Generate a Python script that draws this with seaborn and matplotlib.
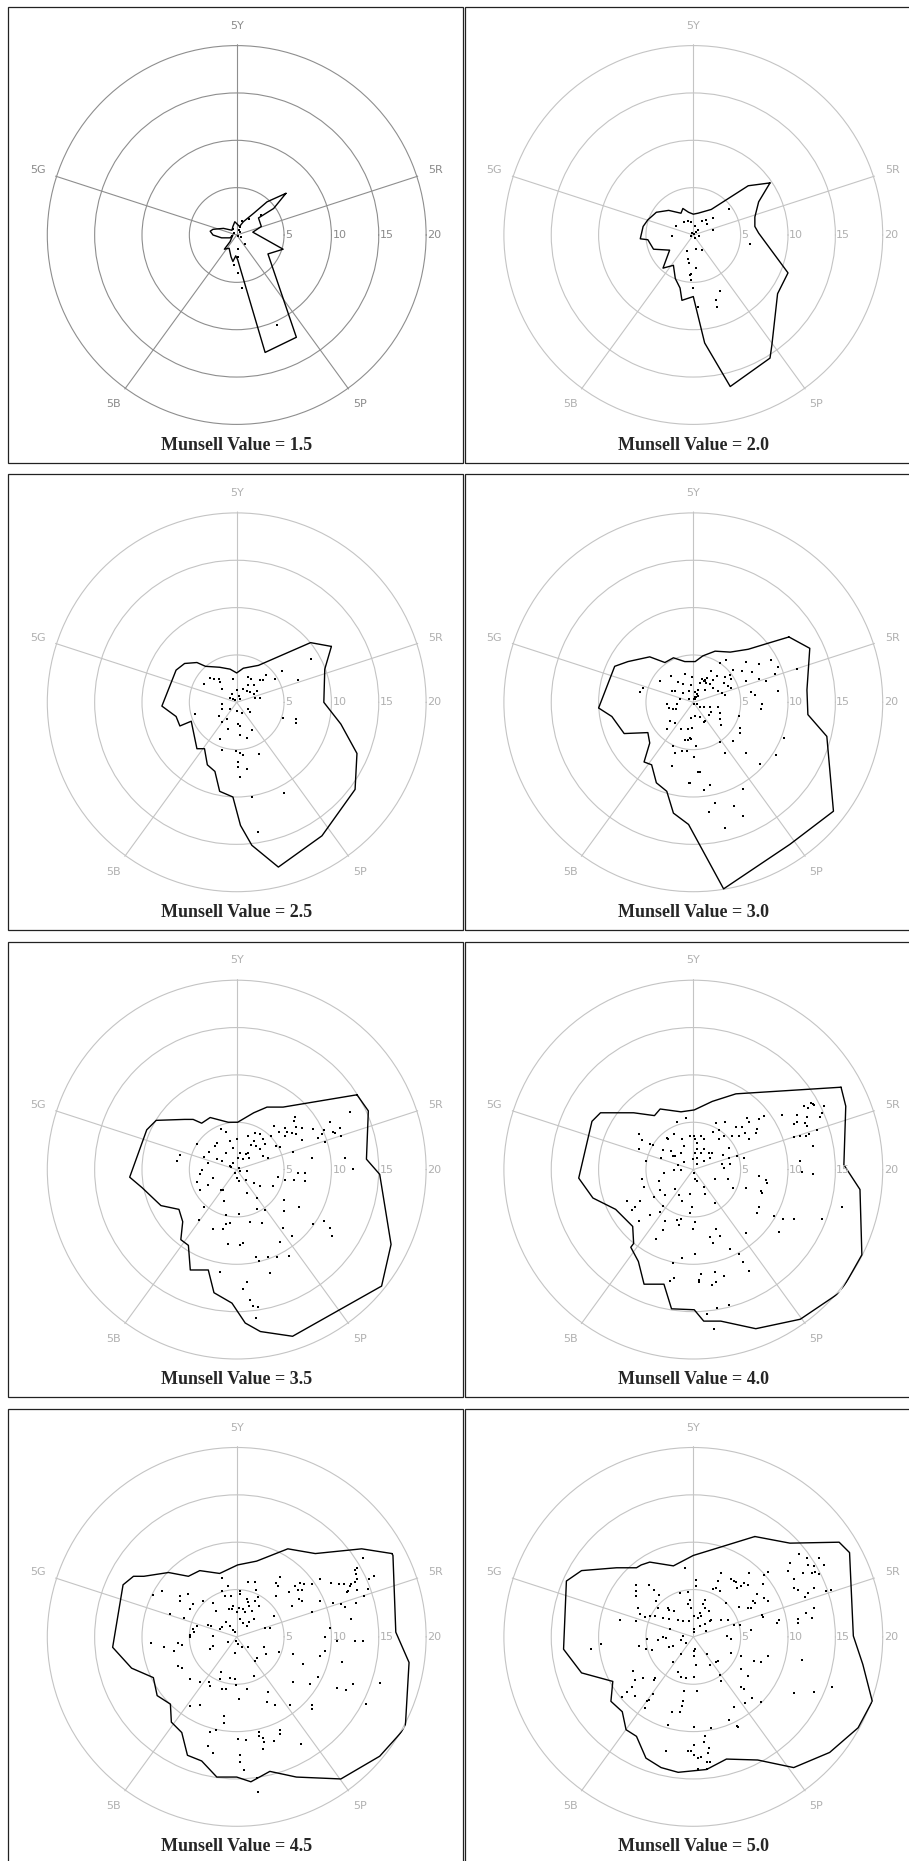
import numpy as np
import seaborn as sns
import matplotlib.pyplot as plt
from matplotlib.patches import Rectangle

# Munsell value levels, one panel each
values = [1.5, 2.0, 2.5, 3.0, 3.5, 4.0, 4.5, 5.0]
hue_labels = ['5R', '5Y', '5G', '5B', '5P']
hue_angles = [18, 90, 162, 234, 306]   # degrees
rings = [5, 10, 15, 20]

# outlines (chroma units, x = right, y = up)
outline_15 = [(5.2,4.4),(3.2,3.5),(1.8,2.3),(0.7,1.4),(0.3,0.9),(-0.2,1.4),(-0.4,0.9),(-0.5,0.5),
              (-1.4,0.7),(-2.5,0.6),(-2.8,0.4),(-2.5,0.0),(-1.6,-0.3),(-0.7,-0.3),(-0.4,0.0),
              (-0.7,-0.7),(-1.3,-1.5),(-0.8,-1.4),(-0.6,-2.3),(-0.4,-2.8),(-0.1,-2.2),(0.1,-2.6),
              (3.0,-12.4),(6.3,-10.8),(3.3,-2.0),(4.9,-1.5),(1.7,0.3),(2.6,0.9),(2.3,1.8),(3.9,2.8)]
dots_15 = [(2.6,2.1),(0.6,1.5),(1.3,1.7),(0.9,-0.9),(0.1,-1.5),(0.1,-2.3),(-0.3,-3.2),(0.1,-4.0),
           (0.6,-5.6),(4.3,-9.5),(0.2,0.5),(0.4,0.3),(-0.3,0.2),(0.1,-0.1),(-0.5,-0.1),(0.3,0.8),
           (-0.4,0.6),(0.5,-0.2)]

outline_20 = [(8.1,5.5),(5.8,5.2),(1.9,2.7),(0.5,2.3),(0.0,2.2),(-0.5,2.4),(-1.1,2.8),(-1.3,2.3),
              (-2.6,2.6),(-3.9,2.4),(-4.8,1.6),(-5.3,0.9),(-5.6,-0.4),(-4.8,-0.5),(-4.2,-1.5),
              (-2.5,-1.6),(-3.2,-3.5),(-2.1,-3.2),(-1.9,-4.6),(-1.4,-5.6),(-1.2,-6.9),(0.0,-6.5),
              (1.2,-11.4),(3.9,-16.0),(8.1,-13.0),(8.3,-11.6),(8.9,-6.2),(10.0,-4.0),(6.9,0.2),
              (6.5,0.9),(6.5,1.9),(6.9,3.5)]
dots_20 = [(3.8,2.7),(2.1,1.8),(1.3,1.6),(1.4,1.2),(0.9,1.5),(2.1,0.5),(0.5,0.5),(0.2,0.9),
           (-0.2,1.4),(-0.6,1.5),(-1.0,1.4),(-1.8,1.0),(-2.2,-0.1),(0.6,-0.1),(6.0,-1.0),
           (-0.7,-1.7),(0.3,-1.5),(0.9,-1.6),(-0.6,-2.5),(-0.5,-3.0),(0.3,-3.5),(-0.2,-4.1),
           (-0.3,-4.2),(-0.2,-4.8),(0.0,-5.6),(2.8,-5.9),(2.4,-6.9),(2.5,-7.6),(0.5,-7.6),
           (0.3,0.3),(0.1,0.1),(-0.2,-0.1),(0.2,-0.3),(-0.1,0.2)]

outline_25 = [(10.0,5.9),(7.8,6.3),(2.3,3.9),(0.7,3.6),(0.0,3.1),(-0.7,3.5),(-1.8,3.7),(-3.3,3.8),
              (-4.2,4.2),(-5.5,4.1),(-6.4,3.4),(-7.9,-0.4),(-6.4,-1.5),(-6.0,-2.5),(-4.8,-2.0),
              (-4.2,-4.9),(-3.4,-4.9),(-3.1,-6.6),(-2.3,-7.3),(-1.8,-9.4),(-0.4,-10.0),(0.4,-13.0),
              (1.6,-15.1),(4.4,-17.4),(9.0,-14.1),(12.5,-9.2),(12.7,-5.4),(11.0,-2.3),(9.2,0.0),(9.3,3.5)]
dots_25 = [(7.8,4.6),(6.5,2.4),(4.8,3.3),(4.0,2.5),(3.1,2.9),(2.8,2.4),(2.5,2.4),(1.5,2.5),(1.2,2.7),
           (1.8,1.8),(1.2,1.8),(0.7,1.4),(1.1,1.2),(1.4,1.1),(2.1,1.2),(1.9,0.5),(2.5,0.5),(1.8,0.9),
           (-0.4,2.5),(0.0,1.3),(-0.5,0.9),(0.2,0.7),(-0.7,0.5),(-0.4,0.4),(0.4,0.4),(-0.2,0.2),
           (-2.8,2.6),(-2.4,2.5),(-1.9,2.5),(-1.8,2.1),(-3.5,1.9),(-1.6,1.4),(-1.5,-0.2),(-1.6,-0.7),
           (-1.9,-1.4),(-4.4,-1.2),(-0.7,-0.7),(0.0,-0.9),(1.2,-0.7),(1.4,-1.0),(0.6,-1.1),(-1.0,-1.8),
           (-1.6,-2.1),(-0.9,-2.8),(0.1,-2.3),(0.3,-2.5),(1.6,-2.9),(0.4,-3.5),(1.1,-3.8),(-1.8,-3.9),
           (-1.6,-5.0),(-0.1,-5.1),(0.4,-5.4),(0.7,-5.6),(2.4,-5.5),(0.1,-6.3),(0.1,-6.8),(1.1,-7.0),
           (0.4,-7.9),(4.9,-1.7),(6.3,-1.8),(6.3,-2.2),(5.0,-9.6),(1.6,-10.0),(2.2,-13.7)]

outline_30 = [(10.1,6.9),(8.1,6.3),(5.8,5.6),(3.9,5.3),(2.3,5.4),(1.0,4.9),(0.2,4.3),(-0.9,4.3),
              (-2.1,4.7),(-3.0,4.2),(-4.6,4.8),(-6.9,4.3),(-8.3,3.8),(-10.0,-0.6),(-8.6,-1.5),
              (-7.3,-3.3),(-4.8,-3.2),(-4.6,-4.3),(-5.2,-6.3),(-4.4,-6.6),(-3.9,-8.5),(-2.8,-9.4),
              (-2.1,-11.7),(-0.5,-12.9),(3.2,-19.7),(10.2,-15.0),(14.8,-11.5),(14.1,-3.6),
              (12.1,-1.3),(12.0,1.3),(12.3,5.7)]
dots_30 = [(11.0,3.5),(8.2,4.5),(8.9,3.7),(8.6,3.0),(7.7,2.3),(6.9,4.0),(5.6,4.3),(6.2,3.2),(6.9,2.5),
           (5.6,2.3),(4.2,3.4),(3.5,4.5),(2.8,4.2),(5.1,3.3),(6.1,1.1),(6.5,0.8),(8.9,1.2),(7.3,-0.2),
           (7.2,-0.7),(3.9,2.9),(4.0,2.5),(3.3,2.7),(3.2,2.0),(3.7,1.7),(4.0,1.5),(3.0,1.0),(3.3,0.8),
           (2.6,1.2),(1.9,3.3),(2.5,2.8),(2.1,2.4),(1.4,2.6),(1.2,2.3),(0.9,2.5),(0.7,2.0),(1.8,1.9),
           (1.2,1.3),(2.1,1.5),(0.5,1.3),(0.2,1.1),(0.2,0.6),(-0.1,2.7),(-0.2,1.8),(-0.5,1.2),
           (-1.1,1.9),(-0.9,3.0),(-1.6,2.1),(-2.4,2.8),(-3.5,2.3),(-2.3,1.2),(-1.9,1.2),(-1.1,1.0),
           (-0.5,0.3),(-1.4,0.3),(-5.3,1.5),(-5.6,1.1),(-2.8,-0.2),(-2.6,-0.6),(-1.7,-0.2),(-1.8,-0.7),
           (-2.1,-0.7),(-2.5,-2.0),(-2.8,-2.8),(-1.9,-2.2),(-1.3,-2.8),(-0.6,-2.8),(-0.1,-2.7),
           (-0.6,-4.0),(-0.2,-3.9),(-0.4,-3.8),(-0.9,-4.0),(-2.1,-4.6),(-1.9,-5.4),(-1.2,-5.1),
           (-0.7,-5.1),(0.3,-4.6),(0.1,-5.8),(-2.2,-6.7),(0.5,-7.4),(0.7,-7.4),(-0.5,-8.5),(-0.4,-8.5),
           (1.1,-9.3),(1.8,-8.7),(5.3,-9.2),(2.3,-10.6),(4.3,-11.0),(1.7,-11.6),(5.2,-12.0),(3.3,-13.3),
           (2.8,-4.2),(3.3,-5.4),(4.2,-4.1),(4.9,-2.7),(4.9,-3.2),(5.6,-5.4),(7.0,-6.5),(9.6,-3.8),
           (8.7,-5.6),(4.8,-1.4),(0.4,-0.2),(0.7,-0.5),(1.1,-0.5),(1.8,-0.5),(1.9,-1.0),(1.7,-1.3),
           (2.6,-0.5),(2.8,-1.1),(2.8,-1.8),(2.9,-2.4),(1.2,-2.0),(1.1,-2.1),(0.7,-1.5),(0.2,-1.4),
           (-0.2,-1.7),(0.1,-0.2),(0.3,0.6),(0.4,0.9),(0.2,0.3),(0.5,0.7),(0.1,0.4),(1.1,2.2),
           (1.3,2.0),(1.2,2.4)]

outline_35 = [(12.7,7.9),(4.9,6.6),(3.2,6.6),(1.8,6.0),(0.1,5.0),(-0.9,5.0),(-2.8,5.5),(-3.7,4.9),
              (-4.6,5.3),(-5.5,5.3),(-8.5,5.2),(-9.5,4.2),(-11.3,-0.8),(-10.0,-1.9),(-8.0,-3.8),
              (-6.1,-4.2),(-5.7,-5.5),(-5.9,-7.4),(-5.1,-8.0),(-4.9,-10.6),(-3.0,-10.6),(-2.4,-13.0),
              (-0.5,-14.1),(0.9,-16.2),(2.5,-17.1),(5.9,-17.6),(15.3,-12.3),(16.3,-7.9),(15.1,-0.5),
              (13.7,1.1),(13.9,6.2)]
dots_35 = [(12.0,6.1),(10.9,4.4),(11.0,3.6),(10.2,4.0),(10.4,3.9),(9.8,5.0),(9.2,4.2),(9.0,3.8),
           (9.3,2.9),(8.6,3.3),(8.1,4.3),(6.9,4.4),(6.3,4.5),(6.2,5.6),(6.0,5.1),(5.8,3.9),(5.1,4.4),
           (5.1,3.5),(5.3,4.0),(4.5,4.0),(3.9,4.6),(3.6,3.5),(4.2,2.5),(4.6,2.4),(5.9,1.9),(6.9,3.1),
           (6.3,3.8),(11.4,1.2),(12.3,0.1),(8.0,1.2),(2.5,3.8),(1.9,3.9),(1.2,3.5),(1.8,3.0),(1.5,2.6),
           (2.0,2.5),(2.8,3.2),(3.0,2.7),(2.5,2.2),(1.2,1.8),(1.0,1.6),(0.4,1.8),(1.3,1.2),(2.8,1.4),
           (3.3,1.2),(0.7,1.1),(0.1,1.2),(-0.4,2.3),(0.0,3.2),(-0.7,3.0),(-1.1,4.0),(-1.7,4.3),
           (-2.1,2.8),(-2.3,2.5),(-2.9,1.9),(-4.2,2.7),(-3.5,1.3),(-3.0,0.7),(-2.1,1.1),(-1.6,0.9),
           (-1.1,1.8),(-0.7,0.4),(-0.4,0.7),(0.2,0.2),(0.4,-0.2),(1.1,-0.2),(-0.2,-0.4),(-0.6,0.3),
           (-6.0,1.5),(-6.3,0.9),(-3.7,0.0),(-3.9,-0.5),(-4.2,-1.3),(-3.9,-2.2),(-3.0,-1.6),(-2.5,-0.9),
           (0.0,-0.9),(0.2,-1.2),(1.0,-1.1),(1.8,-1.4),(2.5,-1.7),(3.8,-1.7),(4.4,-0.8),(5.1,-1.1),
           (6.0,-1.1),(6.5,-0.4),(7.2,-1.2),(7.2,-0.4),(1.1,-2.5),(2.1,-3.0),(2.1,-4.2),(3.0,-4.3),
           (5.0,-3.2),(5.0,-4.4),(6.6,-4.0),(4.9,-6.2),(5.8,-7.0),(4.6,-7.6),(5.5,-9.1),(4.3,-9.2),
           (3.3,-9.2),(2.4,-9.7),(2.0,-9.2),(3.5,-10.9),(1.1,-11.9),(0.7,-12.6),(1.4,-13.8),(1.7,-14.4),
           (2.2,-14.5),(2.0,-15.7),(-1.8,-10.8),(0.4,-8.0),(0.7,-7.8),(-0.9,-7.9),(-2.5,-6.3),
           (-1.4,-6.3),(-1.1,-5.7),(-0.7,-5.6),(1.4,-5.5),(2.7,-5.6),(0.2,-4.7),(-1.1,-4.8),(-1.3,-3.3),
           (-1.7,-2.2),(-1.4,-2.2),(-3.5,-4.0),(-4.0,-5.3),(8.1,-5.7),(9.2,-5.4),(9.9,-6.2),(10.1,-7.0)]

outline_40 = [(15.6,8.7),(4.5,8.0),(2.0,7.2),(0.1,6.3),(-1.3,6.1),(-3.5,6.4),(-4.1,5.7),(-6.3,6.0),
              (-9.8,6.0),(-10.7,5.1),(-12.1,-0.9),(-10.6,-3.0),(-8.2,-4.2),(-6.4,-6.0),(-6.3,-7.8),
              (-6.6,-8.2),(-5.8,-9.7),(-5.2,-12.1),(-3.1,-12.1),(-2.3,-14.7),(0.1,-14.8),(1.1,-16.0),
              (2.9,-16.0),(6.6,-16.8),(11.3,-15.8),(15.6,-12.9),(17.8,-9.0),(17.6,-2.1),(15.9,0.5),
              (16.1,6.7)]
dots_40 = [(12.4,7.0),(12.7,6.8),(12.6,6.9),(13.8,6.7),(13.6,6.0),(13.4,5.6),(11.7,6.7),(12.1,6.5),
           (10.9,5.8),(12.0,5.6),(11.0,5.0),(11.8,4.9),(12.0,4.6),(10.6,4.8),(13.1,4.2),(12.2,3.8),
           (11.9,3.5),(11.3,3.5),(10.6,3.4),(12.6,2.5),(11.3,0.9),(11.5,-0.3),(12.6,-0.5),(9.4,5.8),
           (7.5,5.7),(6.9,5.3),(6.7,4.3),(6.6,3.9),(5.7,5.5),(5.9,5.0),(5.5,3.9),(5.1,4.5),(4.5,4.5),
           (4.8,3.5),(5.9,3.2),(5.4,1.2),(4.6,1.4),(3.3,5.0),(2.4,4.9),(2.7,4.2),(2.1,4.0),(2.7,3.2),
           (3.2,3.6),(4.1,3.5),(3.8,2.3),(3.1,1.5),(2.0,1.8),(1.8,1.2),(3.8,1.2),(3.9,0.6),(3.0,0.6),
           (3.2,0.2),(0.8,3.5),(1.1,3.2),(1.1,2.2),(0.4,2.2),(0.8,1.8),(0.1,3.6),(-0.3,3.5),(0.2,3.2),
           (0.4,2.8),(0.2,1.8),(0.4,1.2),(0.0,1.1),(0.4,0.6),(1.1,0.9),(1.7,1.8),(-0.8,5.5),(-1.7,5.0),
           (-1.0,2.5),(-1.3,1.8),(-1.9,1.4),(-1.6,0.5),(-1.3,0.0),(-2.0,0.0),(-1.0,0.8),(-1.2,3.2),
           (-2.0,3.8),(-2.7,3.2),(-2.8,3.3),(-3.2,2.1),(-3.4,1.2),(-4.3,2.6),(-4.6,2.7),(-5.7,3.8),
           (-5.4,3.1),(-5.7,2.2),(-5.0,0.9),(-2.4,2.0),(-2.1,1.4),(-3.1,-0.4),(-3.6,-1.2),(-3.5,-2.2),
           (-3.0,-2.7),(-4.2,-2.9),(-5.4,-1.0),(-5.2,-1.8),(-5.6,-3.3),(-7.0,-3.3),(-6.5,-4.3),
           (-6.2,-4.0),(-5.7,-5.4),(-4.6,-4.8),(-3.2,-3.8),(-3.5,-4.5),(-3.0,-5.4),(-3.2,-6.4),
           (-3.9,-7.3),(-1.9,-2.1),(-1.5,-2.7),(-1.2,-3.3),(-0.4,-2.6),(-0.1,-4.0),(-0.3,-4.6),
           (-1.7,-5.3),(-1.3,-5.2),(-1.5,-5.8),(0.2,-5.5),(0.0,-6.3),(-1.2,-9.3),(0.2,-8.9),(-2.1,-9.9),
           (-2.0,-11.4),(-2.5,-11.8),(0.6,-11.7),(0.8,-11.0),(0.6,-11.9),(2.0,-12.2),(2.3,-10.8),
           (3.2,-11.2),(2.4,-11.9),(2.5,-14.6),(3.8,-14.3),(1.4,-15.3),(2.2,-16.8),(0.1,-0.4),(0.2,-1.0),
           (0.4,-1.2),(1.1,-1.8),(1.2,-2.6),(2.3,-1.0),(3.7,-1.0),(4.2,-1.9),(2.3,-3.5),(2.4,-6.3),
           (1.8,-7.1),(2.8,-7.0),(2.1,-7.7),(3.9,-8.4),(4.8,-8.9),(5.2,-9.8),(5.9,-10.7),(5.6,-6.7),
           (5.6,-1.9),(6.9,-0.7),(7.7,-1.1),(7.8,-1.4),(7.1,-2.3),(7.3,-2.5),(6.9,-4.0),(6.7,-4.6),
           (8.5,-4.9),(9.5,-5.2),(10.6,-5.2),(9.0,-6.6),(13.6,-5.2),(15.7,-4.0)]

outline_45 = [(16.4,8.8),(13.2,9.3),(8.3,8.8),(5.4,9.3),(2.1,8.0),(0.1,7.6),(-1.8,6.7),(-3.9,7.0),
              (-5.1,6.4),(-7.2,6.8),(-9.8,6.4),(-10.9,6.4),(-12.0,5.5),(-13.1,-1.1),(-11.1,-3.3),
              (-8.8,-4.3),(-8.4,-6.2),(-7.0,-7.1),(-6.9,-9.0),(-5.8,-10.1),(-5.2,-12.5),(-3.7,-13.1),
              (-2.1,-14.8),(0.0,-14.8),(1.5,-15.3),(3.5,-14.2),(6.3,-14.8),(11.0,-15.0),(15.1,-12.6),
              (17.8,-9.6),(18.2,-2.7),(16.8,0.5),(16.5,8.6)]
dots_45 = [(13.3,8.3),(12.7,7.3),(12.5,7.1),(12.6,6.6),(12.7,6.1),(12.5,5.8),(12.1,5.6),(12.0,5.4),
           (11.8,4.8),(11.6,4.7),(12.7,5.0),(12.6,3.6),(13.4,4.3),(13.9,5.1),(14.0,6.1),(14.5,6.4),
           (11.3,5.6),(10.8,5.6),(10.0,5.7),(11.0,3.5),(11.4,3.2),(10.2,3.6),(12.1,1.9),(9.9,0.9),
           (9.3,0.0),(10.6,-0.4),(12.5,-0.4),(13.3,-0.4),(8.8,6.1),(8.0,5.6),(8.8,3.8),(7.9,2.6),
           (6.9,5.0),(6.7,5.7),(6.5,5.0),(6.2,5.4),(7.1,5.6),(6.6,4.0),(6.9,3.8),(5.8,3.3),(5.5,4.7),
           (4.6,6.3),(4.2,5.7),(4.2,4.3),(4.4,5.4),(3.9,2.2),(3.5,0.9),(3.0,0.9),(1.2,5.8),(1.9,5.8),
           (2.0,5.0),(2.3,4.2),(1.9,3.8),(2.4,3.3),(1.1,4.0),(1.2,3.7),(1.3,3.3),(0.7,2.9),(0.9,2.6),
           (1.6,2.7),(1.8,1.9),(1.3,1.6),(1.1,1.2),(0.7,1.5),(0.3,1.9),(0.0,2.6),(-0.5,2.9),(0.2,3.1),
           (-0.4,3.3),(-0.8,2.9),(0.4,4.8),(0.3,4.5),(-0.6,4.3),(-1.2,4.3),(-1.6,4.8),(-1.5,6.2),
           (-0.9,5.4),(-2.2,2.7),(-2.5,3.6),(-3.6,3.8),(-4.6,3.5),(-4.9,2.9),(-5.1,4.5),(-6.0,4.3),
           (-6.0,3.8),(-7.9,4.8),(-8.8,4.4),(-7.0,2.4),(-5.6,2.0),(-4.6,0.8),(-4.9,0.2),(-4.9,0.0),
           (-4.5,0.5),(-4.2,1.2),(-3.0,1.3),(-2.7,1.1),(-1.8,0.8),(-1.6,1.0),(-1.1,1.6),(-0.7,1.2),
           (-0.4,0.7),(-0.2,0.5),(-2.5,0.1),(-2.5,-1.0),(-2.8,-1.3),(-0.9,-0.5),(-0.1,-0.4),(0.1,-0.8),
           (0.6,-1.1),(1.2,-1.1),(-0.2,-1.7),(2.9,-1.1),(3.1,-1.8),(4.5,-1.6),(2.1,-2.2),(1.9,-2.5),
           (1.8,-4.1),(-0.2,-4.4),(-0.7,-4.3),(-1.7,-3.7),(-1.8,-4.4),(-2.9,-4.8),(-2.8,-5.2),
           (-1.6,-5.5),(-1.1,-5.5),(-0.1,-5.1),(1.1,-5.5),(3.3,-5.8),(3.2,-6.9),(4.0,-7.2),(5.6,-7.2),
           (5.9,-4.8),(5.9,-1.8),(7.0,-2.9),(7.7,-5.0),(8.6,-4.2),(8.8,-2.0),(9.3,-1.5),(11.1,-2.7),
           (10.6,-5.4),(11.5,-5.6),(12.3,-5.0),(15.1,-4.9),(13.7,-7.1),(7.9,-7.2),(8.0,-7.6),(0.2,-6.6),
           (-1.3,-8.3),(-1.3,-9.1),(-3.9,-7.2),(-4.9,-7.3),(-3.9,-4.8),(-4.9,-4.4),(-5.8,-3.3),
           (-6.2,-3.1),(-6.6,-1.5),(-7.7,-1.1),(-9.1,-0.6),(-6.2,-0.6),(-5.8,-0.9),(-2.8,-10.0),
           (-2.2,-9.8),(-3.0,-11.5),(-2.5,-12.3),(0.1,-10.8),(1.0,-10.9),(2.4,-10.0),(2.4,-10.5),
           (2.8,-10.7),(2.9,-11.1),(2.8,-11.8),(3.9,-11.0),(4.6,-9.8),(4.6,-10.3),(6.8,-11.3),
           (0.4,-12.5),(0.4,-13.2),(0.8,-14.1),(2.1,-14.9),(2.2,-16.4)]

outline_50 = [(6.5,10.6),(0.0,8.6),(-2.1,7.5),(-4.6,7.9),(-5.5,7.6),(-6.0,7.3),(-8.1,7.3),(-11.8,7.0),
              (-13.4,5.9),(-13.7,-1.3),(-11.8,-3.8),(-8.5,-4.7),(-8.7,-6.8),(-7.5,-7.9),(-7.1,-9.8),
              (-6.0,-10.5),(-5.0,-12.8),(-3.4,-13.8),(-1.6,-14.3),(1.4,-14.0),(3.5,-12.9),(6.8,-13.0),
              (10.6,-13.8),(14.4,-12.2),(17.4,-9.6),(18.9,-6.8),(17.9,-2.9),(16.9,0.1),(16.5,8.9),
              (15.4,10.0),(10.2,9.9)]
dots_50 = [(11.2,8.8),(10.2,7.8),(10.0,7.0),(10.6,6.1),(10.6,5.2),(11.1,4.9),(11.6,6.8),(12.1,7.6),
           (12.7,7.5),(12.5,6.8),(12.8,6.9),(13.3,6.6),(13.8,7.6),(13.3,8.3),(12.0,8.3),(12.7,5.2),
           (12.1,4.6),(11.8,4.2),(14.0,4.8),(14.5,5.0),(12.7,3.0),(11.9,2.5),(12.5,2.0),(11.1,1.9),
           (11.1,1.5),(9.0,1.8),(8.8,1.5),(7.9,6.9),(7.5,6.5),(7.4,5.6),(7.5,4.1),(7.9,3.8),(7.3,2.3),
           (7.4,2.1),(6.7,4.5),(6.3,3.8),(6.5,3.6),(6.1,3.0),(5.8,3.1),(5.8,5.5),(5.9,6.8),(5.4,5.7),
           (5.0,5.4),(4.6,5.2),(4.3,5.9),(4.0,6.1),(4.5,5.8),(4.8,3.2),(3.5,3.6),(2.9,6.7),(2.6,5.9),
           (2.8,4.8),(2.1,5.1),(2.4,5.2),(1.2,3.9),(1.0,3.5),(1.2,3.1),(1.7,2.7),(1.9,1.8),(1.8,1.7),
           (1.2,1.4),(0.8,2.2),(0.7,2.5),(0.3,6.0),(0.3,5.4),(-0.6,4.7),(-0.4,3.9),(-0.6,3.5),(-0.2,3.1),
           (-0.9,7.3),(0.1,2.2),(0.5,2.0),(-0.5,1.7),(0.1,0.8),(0.1,0.5),(0.7,1.1),(1.3,0.6),(2.9,1.8),
           (3.7,1.8),(4.3,1.3),(4.9,1.3),(6.1,0.7),(3.6,0.1),(4.0,-0.2),(-1.4,4.6),(-2.0,2.7),(-2.6,2.8),
           (-2.7,3.1),(-3.2,2.0),(-2.6,1.9),(-1.6,1.8),(-1.1,1.7),(-3.7,3.1),(-3.9,3.8),(-4.0,2.2),
           (-3.6,4.4),(-4.1,4.9),(-4.7,5.5),(-6.0,5.5),(-6.0,4.8),(-6.1,4.3),(-5.8,3.0),(-5.6,2.4),
           (-6.0,1.7),(-5.1,2.1),(-4.6,2.2),(-7.7,1.8),(-9.7,-0.7),(-10.8,-1.3),(-5.7,-1.0),(-4.9,-0.2),
           (-5.0,-1.3),(-4.4,-1.4),(-3.7,-0.3),(-3.2,0.0),(-2.9,-0.1),(-2.6,-1.1),(-2.1,-1.0),(-2.5,0.8),
           (-1.1,0.1),(-1.3,-0.3),(-0.8,-0.6),(0.1,-1.5),(0.2,-1.3),(0.1,-2.0),(-1.3,-1.8),(-2.1,-2.7),
           (-1.6,-3.7),(-1.3,-4.2),(-0.8,-4.3),(0.1,-4.2),(0.3,-3.0),(1.4,-1.8),(1.8,-3.0),(2.4,-2.6),
           (2.6,-2.5),(2.8,-4.0),(2.9,-4.7),(4.0,-1.7),(5.0,-2.0),(5.0,-3.4),(5.8,-4.1),(6.4,-2.5),
           (7.1,-2.6),(7.9,-2.0),(5.0,-5.3),(5.4,-5.5),(6.2,-6.4),(7.1,-6.9),(5.5,-7.0),(4.3,-7.4),
           (3.8,-8.8),(4.6,-9.4),(4.7,-9.5),(1.9,-9.6),(0.1,-9.5),(1.2,-10.5),(1.1,-11.1),(1.7,-11.7),
           (1.6,-12.3),(0.1,-11.4),(-0.6,-12.1),(-0.2,-12.1),(0.1,-12.5),(0.5,-12.8),(0.8,-12.7),
           (1.4,-13.2),(1.8,-13.2),(0.5,-13.9),(1.4,-13.9),(-2.9,-12.0),(-2.7,-9.3),(-2.3,-7.9),
           (-1.4,-7.9),(-1.2,-7.3),(-1.1,-6.8),(-1.0,-5.7),(0.4,-5.7),(-4.0,-4.3),(-4.2,-4.5),
           (-4.3,-6.0),(-4.7,-6.7),(-4.9,-6.8),(-5.1,-7.5),(-5.3,-4.3),(-6.2,-4.5),(-6.4,-3.6),
           (-6.5,-5.3),(-6.2,-6.2),(-7.0,-5.8),(-7.5,-6.3),(10.6,-5.9),(12.7,-5.8),(14.6,-5.3),
           (11.5,-2.4)]

outlines = [outline_15, outline_20, outline_25, outline_30, outline_35, outline_40, outline_45, outline_50]
dots = [dots_15, dots_20, dots_25, dots_30, dots_35, dots_40, dots_45, dots_50]

W, H = 909, 1861
unit = 9.47          # pixels per chroma unit
rmax = 20.15
R = rmax * unit

sns.set_style('white')
fig = plt.figure(figsize=(W / 100, H / 100), dpi=100)

for i, v in enumerate(values):
    row, col = divmod(i, 2)
    cx = 236.7 + 456.6 * col
    cy = 235.0 + 467.3 * row
    # first panel has darker grid
    gc = '#8e8e8e' if i == 0 else '#c4c4c4'
    lc = '#8a8a8a' if i == 0 else '#b0b0b0'

    ax = fig.add_axes([(cx - R) / W, 1 - (cy + R) / H, 2 * R / W, 2 * R / H], projection='polar')

    ol = np.array(outlines[i] + [outlines[i][0]])
    th_l = np.arctan2(ol[:, 1], ol[:, 0])
    r_l = np.hypot(ol[:, 0], ol[:, 1])
    sns.lineplot(x=th_l, y=r_l, sort=False, estimator=None, color='black', lw=1.0, ax=ax)

    d = np.array(dots[i])
    th_d = np.arctan2(d[:, 1], d[:, 0])
    r_d = np.hypot(d[:, 0], d[:, 1])
    sns.scatterplot(x=th_d, y=r_d, marker='s', s=3, color='black', linewidth=0, ax=ax)

    ax.set_ylim(0, rmax)
    ax.set_xticks(np.deg2rad(hue_angles))
    ax.set_xticklabels([])
    ax.set_yticks(rings)
    ax.set_yticklabels([])
    ax.tick_params(length=0)
    ax.grid(True, color=gc, lw=0.8)
    ax.spines['polar'].set_visible(False)
    ax.set_xlabel('')
    ax.set_ylabel('')

    for a, lab in zip(hue_angles, hue_labels):
        ax.text(np.deg2rad(a), 22.1, lab, ha='center', va='center', fontsize=8, color=lc)
    for rr in rings:
        ax.text(0, rr + 0.1, str(rr), ha='left', va='center', fontsize=8, color=lc)

    fig.text(cx / W, 1 - (cy + 210) / H, f'Munsell Value = {v:.1f}', ha='center', va='center',
             fontsize=13, fontweight='bold', family='Liberation Serif')

    fig.add_artist(Rectangle(((cx - 228.3) / W, 1 - (cy - 228 + 455.5) / H), 455 / W, 455.5 / H,
                             transform=fig.transFigure, fill=False, ec='#222222', lw=0.9))

fig.savefig('out.png', dpi=100)
